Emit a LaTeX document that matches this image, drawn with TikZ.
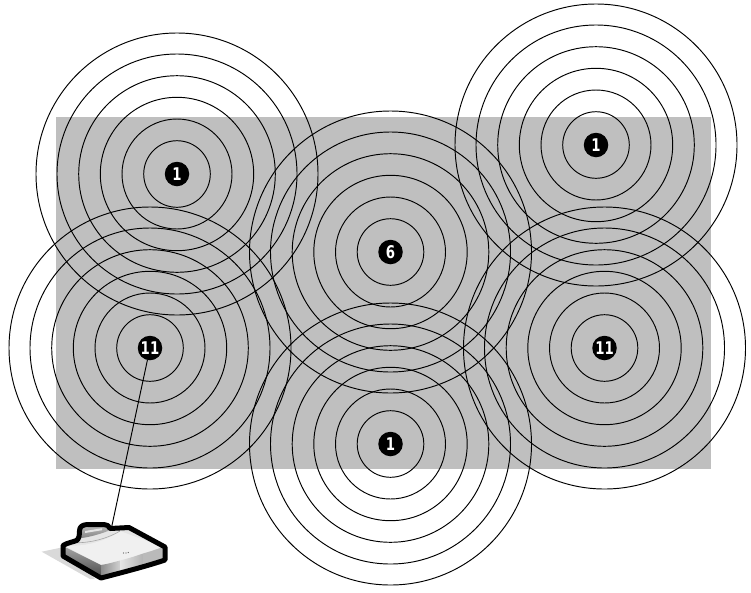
\documentclass[tikz,border=0pt]{standalone}
\usepackage{fontspec}
\setmainfont{DejaVu Sans}
\newfontfamily\badgefont[FakeStretch=0.76]{DejaVu Sans}
\tikzset{
  ring/.style={draw=black,line width=.95pt,fill=none},
  badge/.style={circle,fill=black,text=white,minimum size=24.5pt,inner sep=0pt,font=\badgefont\fontsize{17.5}{17.5}\selectfont\bfseries},
  routeroutline/.style={draw=black,line width=5pt,line join=round},
}
\newcommand{\rings}[4]{%
  \foreach \r in {33.3,55,76.7,98.3,120,141}{\draw[ring] (#1,#2) circle[radius=\r];}%
  \node[badge] (#4) at (#1,#2) {#3};%
}
\newcommand{\routerpath}{(63,545.5) .. controls (68,542.5) and (73,542) .. (76.5,540.5)
  .. controls (79,539) and (79.5,535) .. (79.5,531)
  .. controls (79.5,527) and (82,525) .. (86,524.7)
  -- (104,524.5) .. controls (107,524.5) and (109,526) .. (110,528.5)
  -- (129,527.5) -- (165,547) -- (165,560)
  .. controls (150,565) and (135,569) .. (122,572.5)
  -- (101,578) -- (63,556) -- cycle}
\begin{document}
\begin{tikzpicture}[x=1pt,y=-1pt]
\useasboundingbox (0,0) rectangle (751,592);
\fill[white] (0,0) rectangle (751,592);
\fill[black!25] (56,117) rectangle (711,469);
\rings{177}{174}{1}{a}
\rings{596}{145}{1}{b}
\rings{390.5}{252}{6}{c}
\rings{150}{348}{11}{d}
\rings{604.5}{348}{11}{e}
\rings{390.5}{444}{1}{f}
% router shadow
\fill[black!15] (41.7,551.7) -- (64,547) -- (95,579) -- (90,579) -- cycle;
% router base
\fill[black!10] \routerpath;
% lighter band below the lid line
\fill[black!6] (63,545) .. controls (85,548) and (108,540) .. (120,531)
  -- (163,547) .. controls (145,554) and (120,562) .. (101,565) -- cycle;
% handle
\shade[top color=black!28,bottom color=black!48] (81.5,527.5) -- (106,526.5) -- (108,531)
  .. controls (100,534) and (90,537) .. (81.5,538) -- cycle;
\fill[black!10] (85,531) -- (102,528.2) -- (102,530.2) -- (85,533) -- cycle;
% lid curve
\draw[black!35,line width=.6pt] (65,542) .. controls (85,545) and (107,539) .. (120,531);
% left and front faces
\shade[top color=black!35,bottom color=black!70] (63,546) -- (101,565) -- (101,577) -- (63,556) -- cycle;
\shade[left color=black!45,right color=black!18] (101,565)
  .. controls (108,564) and (114,562) .. (120,560.5) -- (120,573)
  -- (101,578) -- cycle;
\shade[left color=black!10,right color=black!30] (120,560.5)
  .. controls (128,558.5) and (136,556) .. (143,553.5) -- (143,566.5)
  .. controls (136,568.5) and (128,571) .. (120,573) -- cycle;
\fill[black!27] (143,553.5) .. controls (150,551.5) and (158,549) .. (164,546.5) -- (165,560)
  .. controls (158,562.5) and (150,564.5) .. (143,566.5) -- cycle;
% dots
\fill[black!65] (123.5,553) circle[radius=.7] (126,553) circle[radius=.6] (128.3,552.5) circle[radius=.6];
% router outline
\path[routeroutline] \routerpath;
\coordinate (base) at (111.7,526.7);
% antenna
\draw[black,line width=.95pt] (d) -- (base);
\end{tikzpicture}
\end{document}
